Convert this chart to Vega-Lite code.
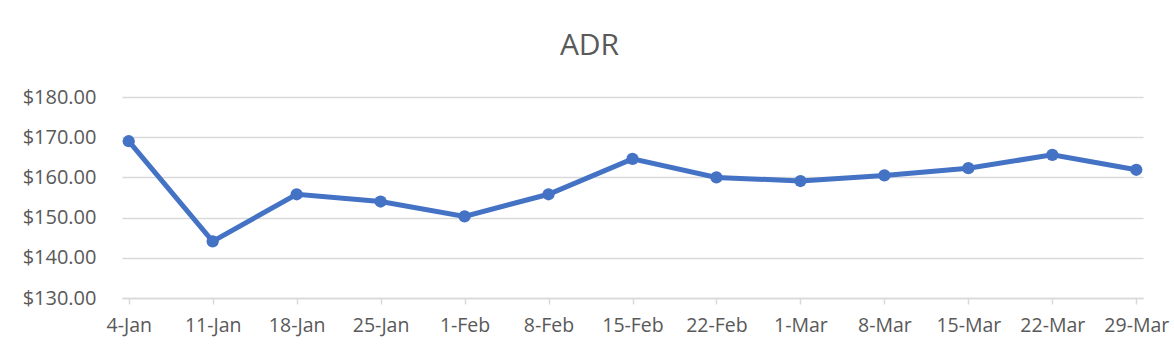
{
  "$schema": "https://vega.github.io/schema/vega-lite/v6.json",
  "width": 1021,
  "height": 201,
  "autosize": {"type": "none"},
  "padding": {"left": 122, "top": 97, "right": 31, "bottom": 60},
  "background": "white",
  "title": {
    "text": "ADR",
    "fontSize": 30,
    "font": "Open Sans",
    "fontWeight": "normal",
    "color": "#595959",
    "anchor": "middle",
    "dx": -43,
    "offset": 26
  },
  "data": {
    "values": [
      {"week": "4-Jan", "adr": 169.0},
      {"week": "11-Jan", "adr": 144.1},
      {"week": "18-Jan", "adr": 155.8},
      {"week": "25-Jan", "adr": 154.0},
      {"week": "1-Feb", "adr": 150.3},
      {"week": "8-Feb", "adr": 155.8},
      {"week": "15-Feb", "adr": 164.6},
      {"week": "22-Feb", "adr": 160.0},
      {"week": "1-Mar", "adr": 159.1},
      {"week": "8-Mar", "adr": 160.5},
      {"week": "15-Mar", "adr": 162.3},
      {"week": "22-Mar", "adr": 165.6},
      {"week": "29-Mar", "adr": 161.9}
    ]
  },
  "mark": {
    "type": "line",
    "color": "#4472C4",
    "strokeWidth": 5,
    "point": {"filled": true, "size": 150, "color": "#4472C4", "opacity": 1}
  },
  "encoding": {
    "x": {
      "field": "week",
      "type": "ordinal",
      "sort": null,
      "scale": {"type": "point", "padding": 0.08},
      "axis": {
        "title": null,
        "labelAngle": 0,
        "labelFont": "Open Sans",
        "labelFontSize": 19.5,
        "labelColor": "#595959",
        "domainColor": "#d9d9d9",
        "domainWidth": 1.5,
        "tickColor": "#d9d9d9",
        "tickSize": 6,
        "tickWidth": 1.5,
        "labelPadding": 12,
        "grid": false
      }
    },
    "y": {
      "field": "adr",
      "type": "quantitative",
      "scale": {"domain": [130, 180], "nice": false, "zero": false},
      "axis": {
        "title": null,
        "values": [130, 140, 150, 160, 170, 180],
        "format": "$.2f",
        "labelFont": "Open Sans",
        "labelFontSize": 20,
        "labelColor": "#595959",
        "labelPadding": 26,
        "domain": false,
        "ticks": false,
        "gridColor": "#d9d9d9",
        "gridWidth": 1.5
      }
    }
  },
  "config": {"view": {"stroke": null}}
}
